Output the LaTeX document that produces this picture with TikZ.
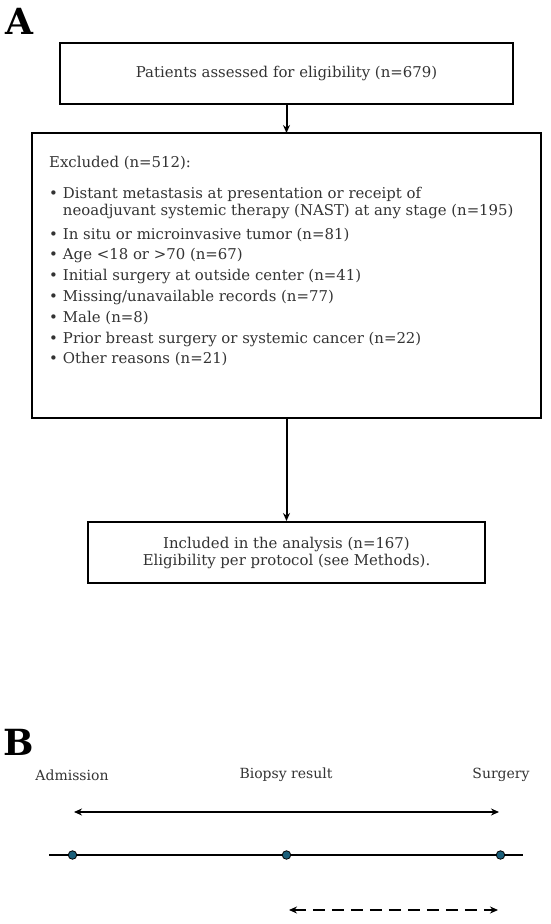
\documentclass[tikz,border=0pt]{standalone}
\usepackage{fontspec}
\setmainfont{DejaVu Serif}
\usetikzlibrary{arrows.meta}
\definecolor{txtgray}{HTML}{333333}
\definecolor{dotteal}{HTML}{1A5F7A}
\begin{document}
\begin{tikzpicture}[x=1pt,y=-1pt,
  box/.style={draw=black,line width=2.6pt,inner sep=0pt},
  txt/.style={text=txtgray,font=\fontsize{14.9}{17}\selectfont,inner sep=0pt},
  txtb/.style={text=txtgray,font=\fontsize{14}{17}\selectfont,inner sep=0pt},
  panel/.style={font=\bfseries\fontsize{36}{40}\selectfont,inner sep=0pt,text=black},
  arr/.style={line width=2pt,-{Stealth[length=8pt,width=7pt]}},
  darr/.style={line width=2pt,{Stealth[length=8pt,width=7pt]}-{Stealth[length=8pt,width=7pt]}},
  dot/.style={circle,fill=dotteal,draw=black,line width=0.8pt,minimum size=8.5pt,inner sep=0pt}]
\useasboundingbox (0,0) rectangle (550,924);
% panel A
\node[panel,anchor=center] (lA) at (19,21) {A};
\draw[box] (60,43) rectangle (513,104);
\coordinate (b1) at (286.5,104);
\node[txt] (t1) at (286.5,73.5) {Patients assessed for eligibility (n=679)};
\draw[box] (32,133) rectangle (541,418);
\coordinate (b2t) at (286.5,133);
\coordinate (b2b) at (286.5,418);
\node[txt,anchor=north west,align=left] (exl) at (49,155) {%
\begin{tabular}{@{}l@{\hspace{5pt}}l@{}}
\multicolumn{2}{@{}l}{Excluded (n=512):}\\[14pt]
•& Distant metastasis at presentation or receipt of\\
 & neoadjuvant systemic therapy (NAST) at any stage (n=195)\\[7pt]
•& In situ or microinvasive tumor (n=81)\\[3.8pt]
•& Age <18 or >70 (n=67)\\[3.8pt]
•& Initial surgery at outside center (n=41)\\[3.8pt]
•& Missing/unavailable records (n=77)\\[3.8pt]
•& Male (n=8)\\[3.8pt]
•& Prior breast surgery or systemic cancer (n=22)\\[3.8pt]
•& Other reasons (n=21)
\end{tabular}};
\draw[box] (88,522) rectangle (485,583);
\coordinate (b3) at (286.5,521);
\node[txt,align=center] (t3) at (286.5,552.5) {Included in the analysis (n=167)\\Eligibility per protocol (see Methods).};
\draw[arr] (b1) -- (b2t);
\draw[arr] (b2b) -- (b3);
% panel B
\node[panel,anchor=center] (lB) at (19,742) {B};
\node[txtb] (adm) at (72,775) {Admission};
\node[txtb] (bio) at (286,775) {Biopsy result};
\node[txtb] (sur) at (501,775) {Surgery};
\coordinate (la) at (49,855);
\coordinate (lb) at (523,855);
\draw[line width=2pt] (la) -- (lb);
\node[dot] (d1) at (72.5,855) {};
\node[dot] (d2) at (286.5,855) {};
\node[dot] (d3) at (500.5,855) {};
\coordinate (s1) at (74,812);
\coordinate (s2) at (499,812);
\draw[darr] (s1) -- (s2);
\coordinate (q1) at (289,910);
\coordinate (q2) at (498,910);
\draw[darr,dash pattern=on 12pt off 7pt] (q1) -- (q2);
\end{tikzpicture}
\end{document}
